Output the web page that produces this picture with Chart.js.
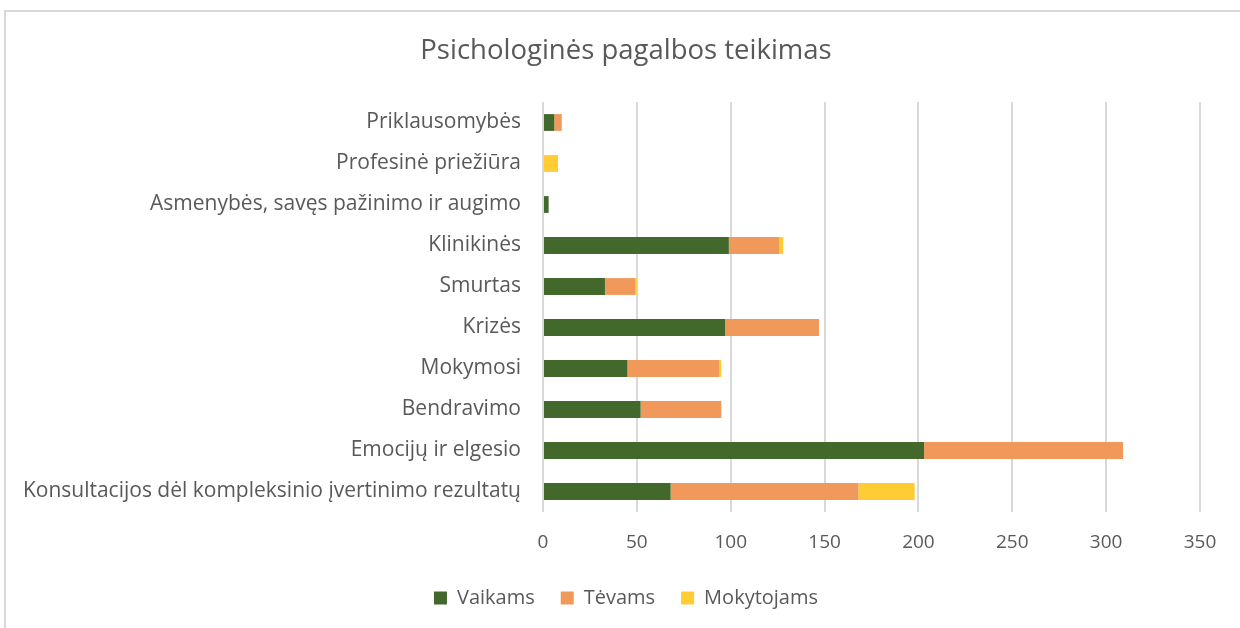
<!DOCTYPE html>
<html lang="lt">
<head>
    <meta charset="UTF-8">
    <title>Psichologinės pagalbos teikimas</title>
    <style>
        html, body { margin: 0; padding: 0; background: #fff; overflow: hidden; }
        #frame {
            position: absolute; left: 4px; top: 10px;
            width: 1260px; height: 650px;
            border: 2px solid #d9d9d9;
        }
        #wrap { position: absolute; left: 0; top: 0; width: 1240px; height: 628px; }
    </style>
</head>
<body>
    <div id="frame"></div>
    <div id="wrap"><canvas id="myChart" width="1240" height="628"></canvas></div>

    <script src="https://cdn.jsdelivr.net/npm/chart.js"></script>
    <script>
        // kategorijos (iš viršaus į apačią)
        const categories = [
            'Priklausomybės',
            'Profesinė priežiūra',
            'Asmenybės, savęs pažinimo ir augimo',
            'Klinikinės',
            'Smurtas',
            'Krizės',
            'Mokymosi',
            'Bendravimo',
            'Emocijų ir elgesio',
            'Konsultacijos dėl kompleksinio įvertinimo rezultatų'
        ];
        const vaikams    = [6, 0, 3, 99, 33, 97, 45, 52, 203, 68];
        const tevams     = [4, 0, 0, 27, 16, 50, 49, 43, 106, 100];
        const mokytojams = [0, 8, 0, 2, 1, 0, 1, 0, 0, 30];
        const xTicks = [0, 50, 100, 150, 200, 250, 300, 350];

        const textColor = '#595959';
        const fontFamily = '"Open Sans", sans-serif';

        // pavadinimą ir legendą centruojam kaip Excel'yje (per visą rėmelį)
        const shiftBlocks = {
            id: 'shiftBlocks',
            afterLayout(chart) {
                [chart.titleBlock, chart.legend].forEach(function(b) {
                    if (b) { b.left = 52; b.width = b.right - b.left; }
                });
            }
        };

        const ctx = document.getElementById('myChart');
        new Chart(ctx, {
            type: 'bar',
            data: {
                labels: categories,
                datasets: [
                    { label: 'Vaikams', data: vaikams, backgroundColor: '#43682b' },
                    { label: 'Tėvams', data: tevams, backgroundColor: '#f1995a' },
                    { label: 'Mokytojams', data: mokytojams, backgroundColor: '#ffcd33' }
                ]
            },
            plugins: [shiftBlocks],
            options: {
                indexAxis: 'y',
                responsive: false,
                animation: false,
                layout: { padding: { left: 0, right: 40, top: 0, bottom: 10 } },
                datasets: {
                    bar: { categoryPercentage: 1, barPercentage: 0.41 }
                },
                scales: {
                    x: {
                        stacked: true,
                        min: 0,
                        max: 350,
                        afterBuildTicks: function(scale) {
                            scale.ticks = xTicks.map(v => ({ value: v }));
                        },
                        afterFit: function(scale) { scale.height = 50; },
                        grid: { color: '#d9d9d9', lineWidth: 2, drawTicks: false },
                        border: { display: false },
                        ticks: { color: textColor, font: { family: fontFamily, size: 19 }, padding: 19 }
                    },
                    y: {
                        stacked: true,
                        afterFit: function(scale) { scale.width = 543; },
                        grid: { display: false, drawTicks: false },
                        border: { display: false },
                        ticks: { color: textColor, font: { family: fontFamily, size: 21 }, padding: 22 }
                    }
                },
                plugins: {
                    title: {
                        display: true,
                        text: 'Psichologinės pagalbos teikimas',
                        color: textColor,
                        font: { family: fontFamily, size: 27.5, weight: 'normal' },
                        padding: { top: 35, bottom: 34 }
                    },
                    legend: {
                        position: 'bottom',
                        labels: {
                            color: textColor,
                            font: { family: fontFamily, size: 20 },
                            boxWidth: 13,
                            boxHeight: 13,
                            padding: 26
                        }
                    },
                    tooltip: { enabled: false }
                }
            }
        });
    </script>
</body>
</html>
